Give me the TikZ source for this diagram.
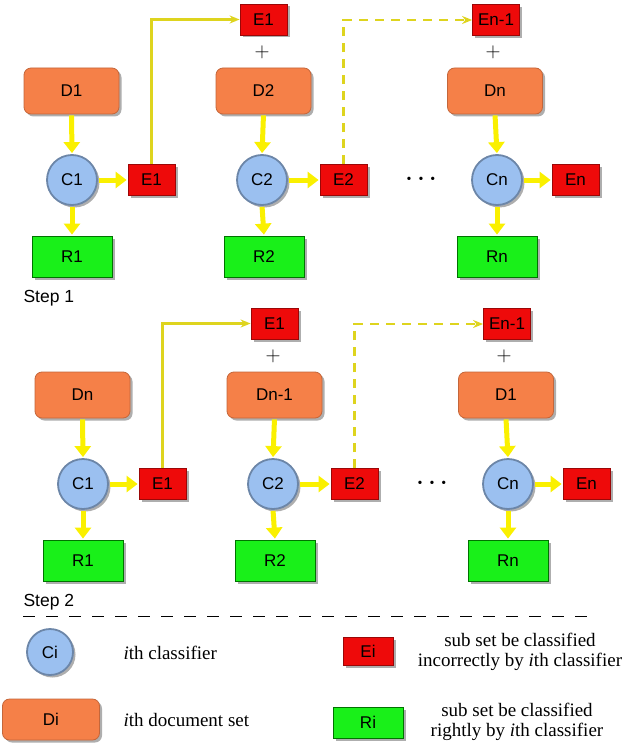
\documentclass[tikz,border=0pt]{standalone}
\usepackage{fontspec}
\setmainfont{Liberation Serif}
\setsansfont{Liberation Sans}
\usetikzlibrary{shadows,arrows.meta}
\definecolor{dorange}{RGB}{245,128,72}
\definecolor{ered}{RGB}{238,10,10}
\definecolor{rgreen}{RGB}{25,240,25}
\definecolor{cblue}{RGB}{155,192,240}
\definecolor{arrowy}{RGB}{250,240,0}
\definecolor{linky}{RGB}{222,212,30}
\tikzset{
  lbl/.style={font=\sffamily\fontsize{17}{17}\selectfont},
  shad/.style={drop shadow={shadow xshift=2.5pt, shadow yshift=-2.5pt, opacity=.45, fill=black!70}},
  dbox/.style={lbl, shad, rectangle, rounded corners=7pt, fill=dorange, draw=dorange!80!black, line width=0.8pt, minimum width=95pt, minimum height=46pt},
  ebox/.style={lbl, shad, rectangle, fill=ered, draw=ered!65!black, line width=0.8pt, minimum width=47pt, minimum height=31pt, inner sep=1pt},
  rbox/.style={lbl, shad, rectangle, fill=rgreen, draw=green!45!black, line width=0.8pt, minimum width=80pt, minimum height=41pt},
  cnode/.style={lbl, shad, circle, fill=cblue, draw=cblue!70!black, line width=1.8pt, minimum size=50pt, inner sep=0pt},
  flow/.style={draw=arrowy, line width=5pt, -{Triangle[length=11pt,width=16pt]}, shorten <=1pt, shorten >=1pt},
  link/.style={draw=linky, line width=2.2pt, -{Stealth[length=10pt,width=8pt]}},
  linkd/.style={link, dash pattern=on 9pt off 7pt},
  plus/.style={font=\fontsize{22}{22}\selectfont},
  dotsn/.style={font=\fontsize{14}{14}\selectfont},
  legtext/.style={font=\fontsize{19}{20}\selectfont, align=center},
  steplbl/.style={font=\sffamily\fontsize{17.5}{18}\selectfont, anchor=west},
}
\newcommand\drawstage[5]{%
\begin{scope}[shift={#5}]
  % left column
  \node[dbox] (#1Da) at (71.5,91) {#2};
  \node[cnode] (#1Ca) at (72,180) {C1};
  \node[ebox] (#1Ea) at (151.5,180) {E1};
  \node[rbox] (#1Ra) at (72,256.5) {R1};
  % middle column
  \node[ebox] (#1Eat) at (263.5,19.5) {E1};
  \node[plus] (#1pa) at (262,52) {$+$};
  \node[dbox] (#1Db) at (263.5,91) {#3};
  \node[cnode] (#1Cb) at (262,180) {C2};
  \node[ebox] (#1Eb) at (343.5,180) {E2};
  \node[rbox] (#1Rb) at (264,256.5) {R2};
  \node[dotsn] (#1dots) at (421,180) {\textbullet\hspace{7pt}\textbullet\hspace{7pt}\textbullet};
  % right column
  \node[ebox] (#1Ebt) at (496,20) {En-1};
  \node[plus] (#1pb) at (493,52) {$+$};
  \node[dbox] (#1Dc) at (495,91) {#4};
  \node[cnode] (#1Cc) at (497,180) {Cn};
  \node[ebox] (#1Ec) at (575.5,180) {En};
  \node[rbox] (#1Rc) at (497,256.5) {Rn};
  % connectors
  \foreach \k in {a,b,c}{
    \draw[flow] (#1D\k.south) -- (#1C\k.north);
    \draw[flow] (#1C\k.east) -- (#1E\k.west);
    \draw[flow] (#1C\k.south) -- (#1R\k.north);
  }
  \draw[link] (#1Ea.north) |- (#1Eat.west);
  \draw[linkd] (#1Eb.north) |- (#1Ebt.west);
\end{scope}}
\begin{document}
\begin{tikzpicture}[x=1pt,y=-1pt]
\useasboundingbox (0,0) rectangle (631,749);
\drawstage{s1}{D1}{D2}{Dn}{(0,0)}
\drawstage{s2}{Dn}{Dn-1}{D1}{(11,304)}
\node[steplbl] (step1) at (20,298) {Step 1};
\node[steplbl] (step2) at (20,602) {Step 2};
\coordinate (sepL) at (23,616);
\coordinate (sepR) at (592,616);
\draw[line width=1pt, dash pattern=on 12pt off 11pt] (sepL) -- (sepR);
% legend
\node[cnode, minimum size=46pt] (lC) at (50,652) {Ci};
\node[legtext, anchor=west] (lCt) at (120,653) {{\itshape i}th classifier};
\node[dbox, minimum width=97pt, minimum height=41pt] (lD) at (51,719.5) {Di};
\node[legtext, anchor=west] (lDt) at (120,720) {{\itshape i}th document set};
\node[ebox, minimum width=50pt, minimum height=28pt] (lE) at (368,651) {Ei};
\node[legtext] (lEt) at (520,652) {sub set be classified\\incorrectly by {\itshape i}th classifier};
\node[rbox, minimum width=70pt, minimum height=31pt] (lR) at (368,722.5) {Ri};
\node[legtext] (lRt) at (517,722) {sub set be classified\\rightly by {\itshape i}th classifier};
\end{tikzpicture}
\end{document}
